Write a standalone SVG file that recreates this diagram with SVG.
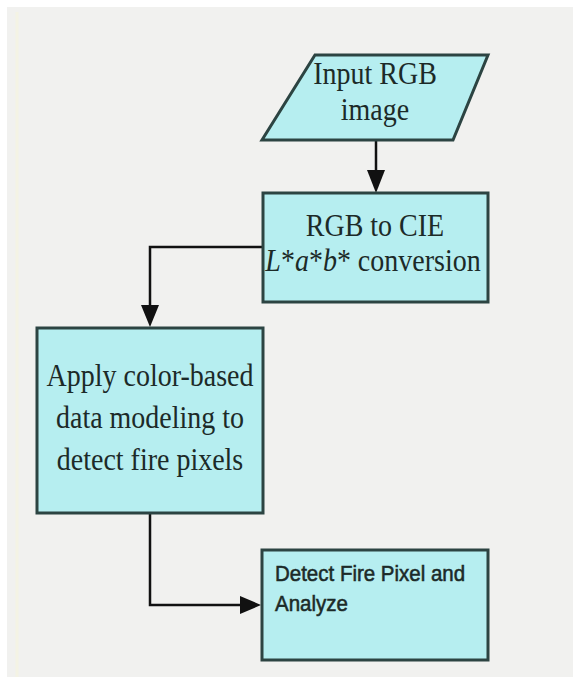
<svg xmlns="http://www.w3.org/2000/svg" width="573" height="677" viewBox="0 0 573 677">
<style>
.box{fill:#b6eef0;stroke:#2c4442;stroke-width:3}
.serif{font-family:"Liberation Serif","Times New Roman",serif;font-size:28px;fill:#1c2a28;text-anchor:middle}
.sans{font-family:"Liberation Sans",Arial,sans-serif;font-size:20.5px;fill:#1c2a28;stroke:#1c2a28;stroke-width:0.5}
.conn{fill:none;stroke:#111;stroke-width:2.5}
.head{fill:#111}
</style>
<rect x="0" y="0" width="573" height="677" fill="#ffffff"/>
<rect x="7" y="7" width="566" height="670" fill="#f1f1ef"/>
<line x1="17" y1="12" x2="17" y2="677" stroke="#f4f3e4" stroke-width="3"/>
<g id="connectors">
<line class="conn" x1="376" y1="140" x2="376" y2="172"/>
<polygon class="head" points="367,170 385,170 376,193"/>
<polyline class="conn" points="263,247 150,247 150,308"/>
<polygon class="head" points="141,305 159,305 150,327"/>
<polyline class="conn" points="150,513 150,605 242,605"/>
<polygon class="head" points="240,596 240,614 261,605"/>
</g>
<g id="input">
<polygon class="box" points="315,55 488,55 453,140 262,140"/>
<text class="serif" transform="translate(375,84) scale(1,1.15)">Input RGB</text>
<text class="serif" transform="translate(375,120) scale(1,1.15)">image</text>
</g>
<g id="convert">
<rect class="box" x="263" y="193" width="225" height="109"/>
<text class="serif" transform="translate(375,236) scale(1,1.15)">RGB to CIE</text>
<text class="serif" transform="translate(373,271) scale(1,1.15)"><tspan font-style="italic">L</tspan>*<tspan font-style="italic">a</tspan>*<tspan font-style="italic">b</tspan>* conversion</text>
</g>
<g id="model">
<rect class="box" x="37" y="328" width="226" height="185"/>
<text class="serif" transform="translate(150,386) scale(1,1.15)">Apply color-based</text>
<text class="serif" transform="translate(150,428) scale(1,1.15)">data modeling to</text>
<text class="serif" transform="translate(150,470) scale(1,1.15)">detect fire pixels</text>
</g>
<g id="detect">
<rect class="box" x="262" y="550" width="226" height="110"/>
<text class="sans" transform="translate(275,581) scale(1,1.1)">Detect Fire Pixel and</text>
<text class="sans" transform="translate(275,611) scale(1,1.1)">Analyze</text>
</g>
</svg>
